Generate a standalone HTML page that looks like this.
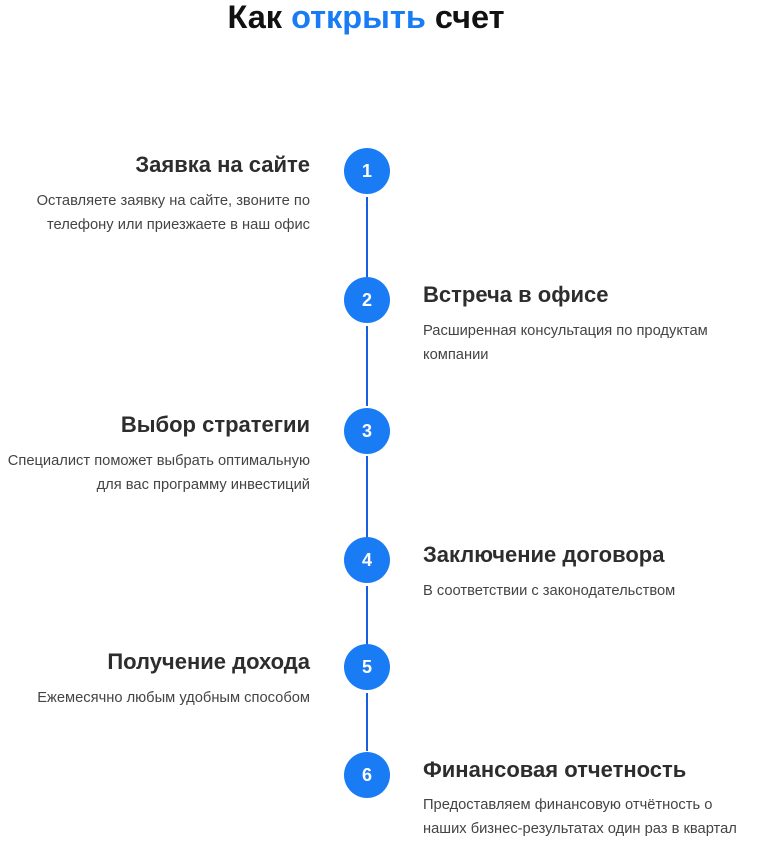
<!DOCTYPE html>
<html><head><meta charset="utf-8"><style>
body{margin:0;width:758px;height:845px;background:#fff;position:relative;overflow:hidden;font-family:"Liberation Sans",Arial,sans-serif}
.t{position:absolute;left:-13px;width:758px;top:0;text-align:center;font-size:32.5px;font-weight:bold;color:#111;line-height:34px}
.t span{color:#1a7cf5}
.c{position:absolute;left:344px;width:46px;height:46px;border-radius:50%;background:#1a7cf5;color:#fff;font-weight:bold;font-size:18px;line-height:46px;text-align:center}
.l{position:absolute;left:366px;width:2px;background:#1a5fe0}
.h{position:absolute;font-size:22px;font-weight:bold;color:#2d2d2d;line-height:24px;white-space:nowrap}
.d{position:absolute;font-size:14.7px;color:#444;line-height:24px;white-space:nowrap}
.L{right:448px;text-align:right}
.R{left:423px}
</style></head><body>
<div class="t">Как <span>открыть</span> счет</div>

<div class="l" style="top:197px;height:80px"></div>
<div class="l" style="top:326px;height:80px"></div>
<div class="l" style="top:456px;height:81px"></div>
<div class="l" style="top:586px;height:58px"></div>
<div class="l" style="top:693px;height:58px"></div>

<div class="c" style="top:148px">1</div>
<div class="c" style="top:277px">2</div>
<div class="c" style="top:408px">3</div>
<div class="c" style="top:537px">4</div>
<div class="c" style="top:644px">5</div>
<div class="c" style="top:752px">6</div>

<div class="h L" style="top:153px">Заявка на сайте</div>
<div class="d L" style="top:189px">Оставляете заявку на сайте, звоните по<br>телефону или приезжаете в наш офис</div>

<div class="h R" style="top:283px">Встреча в офисе</div>
<div class="d R" style="top:319px">Расширенная консультация по продуктам<br>компании</div>

<div class="h L" style="top:413px">Выбор стратегии</div>
<div class="d L" style="top:449px">Специалист поможет выбрать оптимальную<br>для вас программу инвестиций</div>

<div class="h R" style="top:543px">Заключение договора</div>
<div class="d R" style="top:579px">В соответствии с законодательством</div>

<div class="h L" style="top:650px">Получение дохода</div>
<div class="d L" style="top:686px">Ежемесячно любым удобным способом</div>

<div class="h R" style="top:758px">Финансовая отчетность</div>
<div class="d R" style="top:793px">Предоставляем финансовую отчётность о<br>наших бизнес-результатах один раз в квартал</div>
</body></html>
